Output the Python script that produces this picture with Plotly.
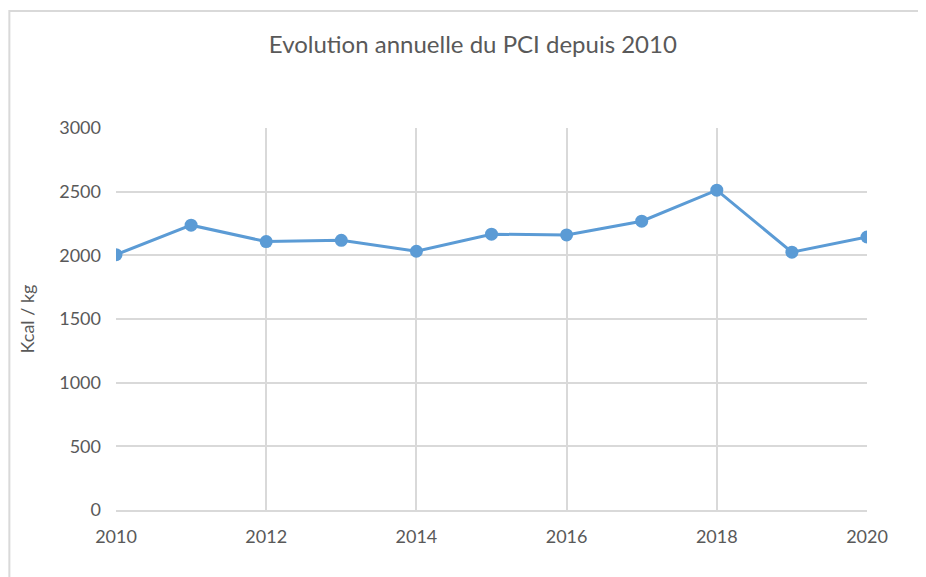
import plotly.graph_objects as go

years = [2010, 2011, 2012, 2013, 2014, 2015, 2016, 2017, 2018, 2019, 2020]
pci = [2005, 2237, 2108, 2118, 2032, 2166, 2160, 2268, 2512, 2025, 2144]

title_text = "Evolution annuelle du PCI depuis 2010"
y_title = "Kcal / kg"
x_ticks = [2010, 2012, 2014, 2016, 2018, 2020]
y_ticks = [0, 500, 1000, 1500, 2000, 2500, 3000]

font_family = "Lato, Open Sans, sans-serif"
grid = "#d9d9d9"
txt = "#595959"

fig = go.Figure()
fig.add_trace(go.Scatter(
    x=years, y=pci, mode="lines+markers",
    line=dict(color="#5b9bd5", width=3),
    marker=dict(color="#5b9bd5", size=13),
    showlegend=False,
))

fig.update_layout(
    width=926, height=577,
    margin=dict(l=108, r=67, t=120, b=75),
    paper_bgcolor="white", plot_bgcolor="white",
    title=dict(text=title_text, x=0.502, xanchor="center", y=0.936, yanchor="middle",
               font=dict(family=font_family, size=24, color=txt)),
    font=dict(family=font_family, color=txt, size=18),
    xaxis=dict(range=[2010, 2020], tickvals=x_ticks, showgrid=True, gridcolor=grid, gridwidth=2,
               showline=True, linecolor=grid, linewidth=2, zeroline=False, ticks="",
               tickfont=dict(size=18, color=txt), ticklabelstandoff=9),
    yaxis=dict(range=[0, 3000], tickvals=y_ticks, showgrid=True, gridcolor=grid, gridwidth=2,
               showline=False, zeroline=False, ticks="", ticklabelstandoff=14,
               tickfont=dict(size=18, color=txt),
               title=dict(text=y_title, font=dict(size=18, color=txt), standoff=19)),
    shapes=[dict(type="rect", xref="paper", yref="paper", x0=-0.142, x1=2, y0=-1, y1=1.306,
                 line=dict(color="#d9d9d9", width=2), fillcolor="rgba(0,0,0,0)", layer="below")],
)

fig.write_html("out.html")
